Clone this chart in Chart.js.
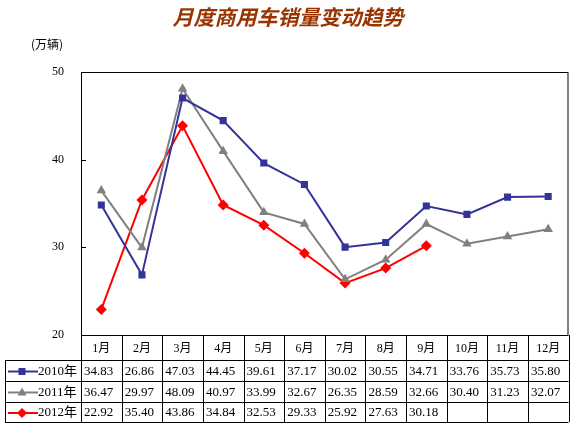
<!DOCTYPE html>
<html>
<head>
<meta charset="utf-8">
<script src="https://cdn.jsdelivr.net/npm/chart.js@4/dist/chart.umd.min.js"></script>
<style>
body{margin:0;background:#fff;}
</style>
</head>
<body>
<canvas id="salesChart" width="574" height="425"></canvas>
<script>
// monthly commercial vehicle sales, 10k units
const months = ["1月","2月","3月","4月","5月","6月","7月","8月","9月","10月","11月","12月"];
const sales2010 = [34.83,26.86,47.03,44.45,39.61,37.17,30.02,30.55,34.71,33.76,35.73,35.80];
const sales2011 = [36.47,29.97,48.09,40.97,33.99,32.67,26.35,28.59,32.66,30.40,31.23,32.07];
const sales2012 = [22.92,35.40,43.86,34.84,32.53,29.33,25.92,27.63,30.18,null,null,null];
const seriesNames = ["2010年","2011年","2012年"];
const yTicks = [20,30,40,50];

const serifFont = "'Liberation Serif','Noto Sans CJK SC',serif";

function drawMarker(ctx, style, x, y, color){
ctx.save();
ctx.fillStyle = color;
ctx.beginPath();
if(style==="rect"){
ctx.rect(x-3.5,y-3.5,7,7);
}else if(style==="triangle"){
ctx.moveTo(x,y-5);
ctx.lineTo(x+4.5,y+3);
ctx.lineTo(x-4.5,y+3);
ctx.closePath();
}else{
ctx.moveTo(x,y-5);
ctx.lineTo(x+5,y);
ctx.lineTo(x,y+5);
ctx.lineTo(x-5,y);
ctx.closePath();
}
ctx.fill();
ctx.restore();
}

const tablePlugin = {
id:"tablePlugin",
afterDraw(chart){
const ctx = chart.ctx;
const area = chart.chartArea;
const xs = chart.scales.x;
const ys = chart.scales.y;
const colW = (area.right-area.left)/months.length;
const rowTops = [area.bottom, area.bottom+25, area.bottom+46, area.bottom+67, area.bottom+87];

ctx.save();
// title
ctx.fillStyle = "#993300";
ctx.font = "italic bold 21px 'Noto Sans CJK SC'";
ctx.textAlign = "center";
ctx.textBaseline = "middle";
ctx.fillText("月度商用车销量变动趋势", 288, 17);

ctx.fillStyle = "#000";
ctx.font = "12px 'Noto Sans CJK SC'";
ctx.textAlign = "left";
ctx.fillText("(万辆)", 31, 44);

// plot frame
ctx.strokeStyle = "#000";
ctx.lineWidth = 1;
ctx.strokeRect(area.left+0.5, area.top+0.5, area.right-area.left-1, area.bottom-area.top);

// inner ticks
yTicks.forEach(v=>{
const py = Math.round(ys.getPixelForValue(v))+0.5;
ctx.beginPath();
ctx.moveTo(area.left, py);
ctx.lineTo(area.left+5, py);
ctx.stroke();
});

// table grid
ctx.beginPath();
for(let i=0;i<=months.length;i++){
const px = Math.round(area.left+i*colW)+0.5;
ctx.moveTo(px, rowTops[0]);
ctx.lineTo(px, rowTops[4]);
}
for(let r=1;r<rowTops.length;r++){
ctx.moveTo(5, rowTops[r]+0.5);
ctx.lineTo(area.right, rowTops[r]+0.5);
}
ctx.moveTo(5.5, rowTops[1]);
ctx.lineTo(5.5, rowTops[4]);
ctx.stroke();

// header
ctx.font = "12px "+serifFont;
ctx.textAlign = "center";
months.forEach((m,i)=>{
ctx.fillText(m, xs.getPixelForValue(i), (rowTops[0]+rowTops[1])/2+1);
});

// rows
ctx.font = "13px "+serifFont;
chart.data.datasets.forEach((ds,r)=>{
const cy = (rowTops[r+1]+rowTops[r+2])/2+1;
ctx.strokeStyle = ds.borderColor;
ctx.lineWidth = 2;
ctx.beginPath();
ctx.moveTo(8, cy);
ctx.lineTo(38, cy);
ctx.stroke();
drawMarker(ctx, ds.pointStyle, 22, cy, ds.borderColor);
ctx.fillStyle = "#000";
ctx.textAlign = "left";
ctx.fillText(seriesNames[r], 38, cy);
ds.data.forEach((v,i)=>{
if(v===null) return;
ctx.fillText(v.toFixed(2), area.left+i*colW+3, cy);
});
});
ctx.restore();
}
};

const salesChart = new Chart(
document.getElementById("salesChart"),
{
type:"line",
data:{
labels:months,
datasets:[{
label:seriesNames[0],
data:sales2010,
borderColor:"#333399",
backgroundColor:"#333399",
borderWidth:2,
pointStyle:"rect",
pointRadius:5,
pointBorderWidth:0
},{
label:seriesNames[1],
data:sales2011,
borderColor:"#808080",
backgroundColor:"#808080",
borderWidth:2,
pointStyle:"triangle",
pointRadius:5.5,
pointBorderWidth:0
},{
label:seriesNames[2],
data:sales2012,
borderColor:"#FF0000",
backgroundColor:"#FF0000",
borderWidth:2,
pointStyle:"rectRot",
pointRadius:5.5,
pointBorderWidth:0
}]
},
options:{
responsive:false,
animation:false,
devicePixelRatio:1,
layout:{padding:{top:72,bottom:90,right:4,left:0}},
plugins:{legend:{display:false},tooltip:{enabled:false}},
scales:{
x:{
display:false,
offset:true
},
y:{
min:20,
max:50,
afterFit(scale){scale.width = 81;},
ticks:{
stepSize:10,
padding:17,
color:"#000",
font:{family:serifFont,size:12}
},
grid:{drawOnChartArea:false,tickLength:0},
border:{display:false}
}
}
},
plugins:[tablePlugin]
});
</script>
</body>
</html>
